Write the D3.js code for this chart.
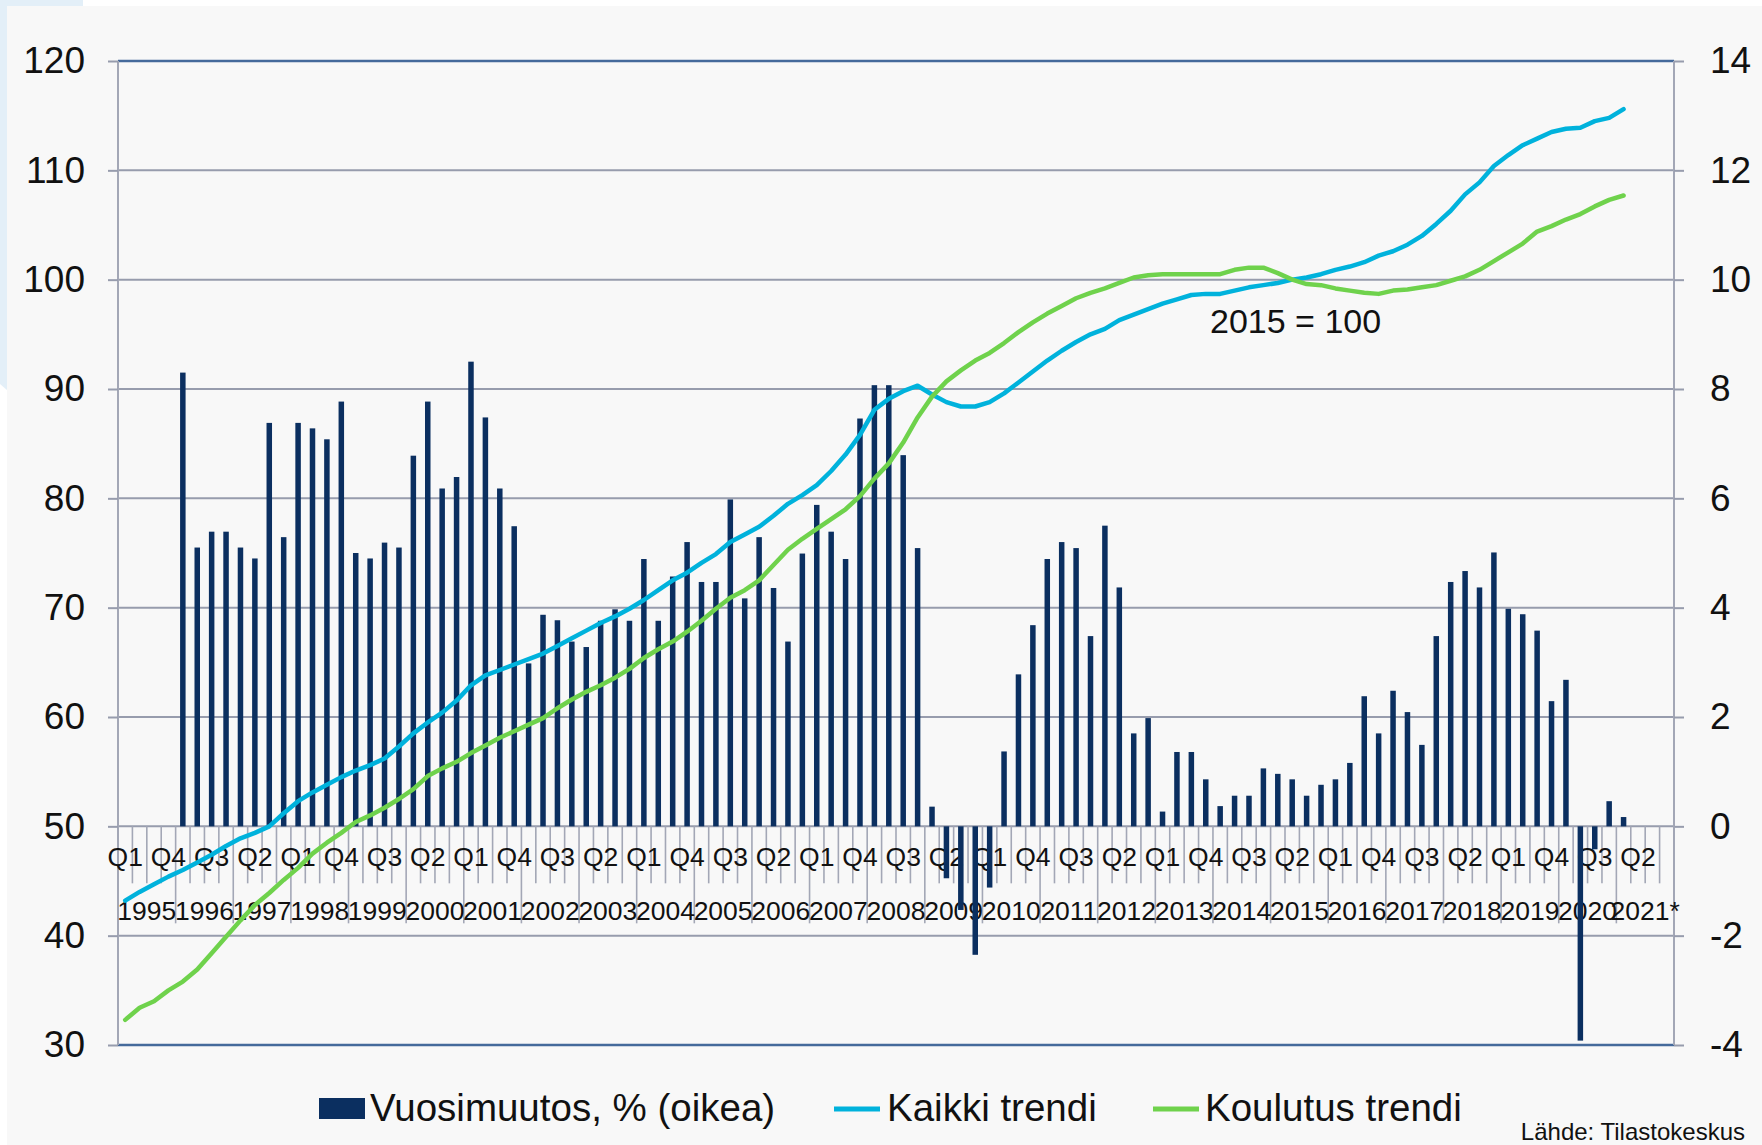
<!DOCTYPE html>
<html>
<head>
<meta charset="utf-8">
<script src="https://cdn.jsdelivr.net/npm/d3@7"></script>
<style>
  html, body { margin: 0; padding: 0; background: #ffffff; }
  svg { display: block; font-family: "Liberation Sans", Arial, sans-serif; }
</style>
</head>
<body>
<svg id="chart" width="1762" height="1145"></svg>
<script>
// ---------- DATA ----------
const years = ["1995","1996","1997","1998","1999","2000","2001","2002","2003","2004","2005","2006","2007","2008","2009","2010","2011","2012","2013","2014","2015","2016","2017","2018","2019","2020","2021*"];
const quarters = ["Q1","Q2","Q3","Q4"];
const leftTicks = [30,40,50,60,70,80,90,100,110,120];
const rightTicks = [-4,-2,0,2,4,6,8,10,12,14];

// Year-over-year change, % (right axis), quarterly from 1995 Q1 to 2021 Q1
const vuosimuutos = [null,null,null,null,
  8.3,5.10,5.39,5.39, 5.10,4.90,7.38,5.29, 7.38,7.28,7.08,7.77, 5.00,4.90,5.19,5.10,
  6.78,7.77,6.18,6.39, 8.5,7.48,6.18,5.49, 2.98,3.87,3.77,3.38, 3.28,3.76,3.97,3.76,
  4.89,3.76,4.57,5.20, 4.47,4.47,5.98,4.17, 5.29,4.36,3.38,4.99, 5.88,5.39,4.89,7.46,
  8.07,8.07,6.79,5.09, 0.36,-0.95,-1.53,-2.35, -1.12,1.37,2.78,3.68, 4.89,5.20,5.09,3.48,
  5.50,4.37,1.70,1.98, 0.27,1.36,1.36,0.86, 0.37,0.56,0.56,1.06, 0.96,0.86,0.56,0.76,
  0.86,1.16,2.38,1.70, 2.48,2.09,1.49,3.48, 4.47,4.67,4.37,5.01, 3.98,3.88,3.58,2.29,
  2.68,-3.92,-0.42,0.46, 0.17];

// Trend index, 2015 = 100 (left axis)
const kaikki = [
  43.2,44.0,44.7,45.4, 46.0,46.7,47.4,48.2, 48.9,49.4,50.0,51.2, 52.3,53.1,53.8,54.5,
  55.1,55.6,56.2,57.3, 58.5,59.5,60.4,61.5, 62.9,63.8,64.3,64.8, 65.3,65.8,66.5,67.2,
  67.9,68.6,69.2,69.9, 70.7,71.6,72.5,73.2, 74.1,74.9,76.0,76.7, 77.4,78.4,79.5,80.3,
  81.2,82.5,84.0,85.8, 88.1,89.1,89.8,90.3, 89.5,88.8,88.4,88.4, 88.8,89.6,90.6,91.6,
  92.6,93.5,94.3,95.0, 95.5,96.3,96.8,97.3, 97.8,98.2,98.6,98.7, 98.7,99.0,99.3,99.5,
  99.7,100.0,100.2,100.5, 100.9,101.2,101.6,102.2, 102.6,103.2,104.0,105.1, 106.3,107.8,108.9,110.4,
  111.4,112.3,112.9,113.5, 113.8,113.9,114.5,114.8, 115.6];

const koulutus = [
  32.3,33.4,34.0,35.0, 35.8,36.9,38.4,39.9, 41.4,42.8,43.9,45.1, 46.2,47.5,48.5,49.4,
  50.4,51.0,51.7,52.5, 53.4,54.6,55.3,55.9, 56.7,57.4,58.1,58.7, 59.3,59.9,60.8,61.6,
  62.3,62.9,63.6,64.4, 65.4,66.2,66.9,67.8, 68.8,69.9,70.9,71.6, 72.5,73.9,75.3,76.3,
  77.2,78.1,79.0,80.2, 81.8,83.2,85.1,87.4, 89.3,90.7,91.7,92.6, 93.3,94.2,95.2,96.1,
  96.9,97.6,98.3,98.8, 99.2,99.7,100.2,100.4, 100.5,100.5,100.5,100.5, 100.5,100.9,101.1,101.1,
  100.6,100.0,99.6,99.5, 99.2,99.0,98.8,98.7, 99.0,99.1,99.3,99.5, 99.9,100.3,100.9,101.7,
  102.5,103.3,104.4,104.9, 105.5,106.0,106.7,107.3, 107.7];

const legendLabels = ["Vuosimuutos, % (oikea)", "Kaikki trendi", "Koulutus trendi"];
const annotation = "2015 = 100";
const source = "Lähde: Tilastokeskus";

// ---------- LAYOUT / STYLE ----------
const W = 1762, H = 1145;
const plot = { left: 118, right: 1674, top: 61, bottom: 1045 };
const colors = { bar: "#0b2f60", kaikki: "#00b2dc", koulutus: "#6fd24c", grid: "#979cad", frame: "#456a9b", text: "#111111" };
const FONT = "'Liberation Sans', Arial, sans-serif";

const categories = [];
years.forEach(y => quarters.forEach(q => categories.push(y + " " + q)));

const svg = d3.select("#chart");

// backgrounds
svg.append("rect").attr("x", 0).attr("y", 0).attr("width", W).attr("height", H).attr("fill", "#ffffff");
svg.append("path").attr("d", "M0,0 L83,0 L83,6 L7,6 L7,390 L0,384 Z").attr("fill", "#e3eff8");
svg.append("rect").attr("x", 7).attr("y", 6).attr("width", W - 7).attr("height", H - 6).attr("fill", "#f8f8f8");

// scales
const x = d3.scaleBand().domain(categories).range([plot.left, plot.right]).padding(0);
const yL = d3.scaleLinear().domain([30, 120]).range([plot.bottom, plot.top]);
const yR = d3.scaleLinear().domain([-4, 14]).range([plot.bottom, plot.top]);
const cx = i => x(categories[i]) + x.bandwidth() / 2;

// gridlines
const gGrid = svg.append("g");
leftTicks.forEach(t => {
  const edge = (t === 120 || t === 30);
  gGrid.append("line")
    .attr("x1", plot.left).attr("x2", plot.right)
    .attr("y1", yL(t)).attr("y2", yL(t))
    .attr("stroke", edge ? colors.frame : colors.grid)
    .attr("stroke-width", edge ? 2.5 : 2);
});

// vertical axes lines
svg.append("line").attr("x1", plot.left).attr("x2", plot.left).attr("y1", plot.top).attr("y2", plot.bottom)
  .attr("stroke", "#a3a7b6").attr("stroke-width", 2);
svg.append("line").attr("x1", plot.right).attr("x2", plot.right).attr("y1", plot.top).attr("y2", plot.bottom)
  .attr("stroke", "#a3a7b6").attr("stroke-width", 2);

// left axis
const axL = svg.append("g").attr("transform", `translate(${plot.left},0)`)
  .call(d3.axisLeft(yL).tickValues(leftTicks).tickSize(10).tickPadding(23).tickFormat(d => String(d)));
axL.select(".domain").remove();
axL.selectAll(".tick line").attr("stroke", colors.grid).attr("stroke-width", 2);
axL.selectAll(".tick text").attr("fill", colors.text).style("font-size", "37px").style("font-family", FONT);

// right axis
const axR = svg.append("g").attr("transform", `translate(${plot.right},0)`)
  .call(d3.axisRight(yR).tickValues(rightTicks).tickSize(10).tickPadding(26).tickFormat(d => String(d)));
axR.select(".domain").remove();
axR.selectAll(".tick line").attr("stroke", colors.grid).attr("stroke-width", 2);
axR.selectAll(".tick text").attr("fill", colors.text).style("font-size", "37px").style("font-family", FONT);

// category axis (at right-axis zero)
const y0 = yR(0);
const gCat = svg.append("g");
categories.forEach((c, i) => {
  const xb = x(c);
  if (i === 0) return;
  const isYear = (i % 4 === 0);
  gCat.append("line").attr("x1", xb).attr("x2", xb)
    .attr("y1", y0).attr("y2", isYear ? y0 + 97 : y0 + 57)
    .attr("stroke", "#a3a7b6").attr("stroke-width", 1.6);
});
gCat.append("line").attr("x1", plot.right).attr("x2", plot.right).attr("y1", y0).attr("y2", y0 + 97)
  .attr("stroke", "#a3a7b6").attr("stroke-width", 1.6);

const qTickVals = categories.filter((c, i) => i % 3 === 0);
const axQ = svg.append("g").attr("transform", `translate(0,${y0})`)
  .call(d3.axisBottom(x).tickValues(qTickVals).tickSize(0).tickPadding(21).tickFormat(c => c.split(" ")[1]));
axQ.select(".domain").remove();
axQ.selectAll(".tick text").attr("fill", colors.text).style("font-size", "26.5px").style("font-family", FONT);

// year labels centred under their four quarters
const gYears = svg.append("g");
years.forEach(yv => {
  const xs = x(yv + " Q1"), xe = x(yv + " Q4") + x.bandwidth();
  gYears.append("text").attr("x", (xs + xe) / 2).attr("y", y0 + 94)
    .attr("text-anchor", "middle").attr("fill", colors.text)
    .style("font-size", "26.5px").text(yv);
});

// bars
const barW = 5.5;
svg.append("g").selectAll("rect")
  .data(vuosimuutos.map((v, i) => ({ v, i })).filter(d => d.v !== null))
  .join("rect")
  .attr("x", d => cx(d.i) - barW / 2)
  .attr("width", barW)
  .attr("y", d => Math.min(yR(d.v), yR(0)))
  .attr("height", d => Math.abs(yR(d.v) - yR(0)))
  .attr("fill", colors.bar);

// lines
const line = d3.line().x((d, i) => cx(i)).y(d => yL(d));
svg.append("path").datum(kaikki).attr("d", line).attr("fill", "none")
  .attr("stroke", colors.kaikki).attr("stroke-width", 4.5).attr("stroke-linejoin", "round").attr("stroke-linecap", "round");
svg.append("path").datum(koulutus).attr("d", line).attr("fill", "none")
  .attr("stroke", colors.koulutus).attr("stroke-width", 4.5).attr("stroke-linejoin", "round").attr("stroke-linecap", "round");

// annotation
svg.append("text").attr("x", 1210).attr("y", 333).attr("fill", colors.text)
  .style("font-size", "34px").text(annotation);

// legend
const lg = svg.append("g");
const legY = 1121;
lg.append("rect").attr("x", 319).attr("y", 1098).attr("width", 46).attr("height", 21).attr("fill", colors.bar);
lg.append("text").attr("x", 370).attr("y", legY).attr("fill", colors.text).style("font-size", "38.5px").text(legendLabels[0]);
lg.append("line").attr("x1", 834).attr("x2", 880).attr("y1", 1109).attr("y2", 1109)
  .attr("stroke", colors.kaikki).attr("stroke-width", 5);
lg.append("text").attr("x", 887).attr("y", legY).attr("fill", colors.text).style("font-size", "38.5px").text(legendLabels[1]);
lg.append("line").attr("x1", 1153).attr("x2", 1199).attr("y1", 1109).attr("y2", 1109)
  .attr("stroke", colors.koulutus).attr("stroke-width", 5);
lg.append("text").attr("x", 1205).attr("y", legY).attr("fill", colors.text).style("font-size", "38.5px").text(legendLabels[2]);

// source
svg.append("text").attr("x", 1745).attr("y", 1140).attr("text-anchor", "end").attr("fill", colors.text)
  .style("font-size", "24px").text(source);
</script>
</body>
</html>
